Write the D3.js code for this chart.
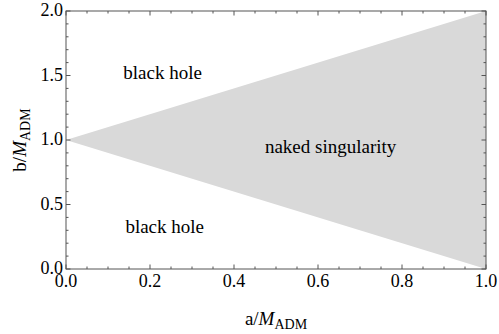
<!DOCTYPE html>
<html>
  <head>
    <meta charset="utf-8">
    <title></title>
    <style>
      body, html{
        margin: 0;
        width: 100%;
        height: 100%;
        background: #fff;
      }
    </style>
  </head>
  <body>
    <svg id="chart" width="499" height="334"></svg>
    <script src="https://cdn.jsdelivr.net/npm/d3@7"></script>
    <script>

// region boundary: triangle of naked singularity in (a, b)
var regionA = [0, 1, 1]
var regionB = [1, 2, 0]

var labels = ['black hole', 'naked singularity', 'black hole']
var labelA = [0.23, 0.63, 0.235]
var labelB = [1.52, 0.95, 0.33]

var xMajor = [0, 0.2, 0.4, 0.6, 0.8, 1.0]
var yMajor = [0, 0.5, 1.0, 1.5, 2.0]

var width = 499, height = 334
var margin = {left: 66, right: 13, top: 11, bottom: 65}
var serif = '"Liberation Serif"'

var svg = d3.select('#chart')
var x = d3.scaleLinear().domain([0, 1]).range([margin.left, width - margin.right])
var y = d3.scaleLinear().domain([0, 2]).range([height - margin.bottom, margin.top])

var pts = regionA.map(function(a, i){ return [x(a), y(regionB[i])] })
svg.append('path')
  .attr('d', d3.line()(pts) + 'Z')
  .attr('fill', '#d9d9d9')
  .attr('stroke', 'none')

svg.selectAll('text.region').data(labels).enter().append('text')
  .attr('class', 'region')
  .attr('x', function(d, i){ return x(labelA[i]) })
  .attr('y', function(d, i){ return y(labelB[i]) })
  .attr('dy', '0.33em')
  .attr('text-anchor', 'middle')
  .attr('font-size', 19)
  .style('font-family', serif)
  .text(function(d){ return d })

// frame with ticks on every side, pointing inward
var xMinor = d3.range(0, 1.0001, 0.05)
var yMinor = d3.range(0, 2.0001, 0.1)
var frame = svg.append('g').attr('stroke', '#555').attr('stroke-width', 1)
function isMajor(v, list){ return list.some(function(m){ return Math.abs(m - v) < 1e-6 }) }

var x0 = x(0), x1 = x(1), y0 = y(0), y1 = y(2)
xMinor.forEach(function(v){
  var len = isMajor(v, xMajor) ? 4.5 : 2.5
  frame.append('line').attr('x1', x(v)).attr('x2', x(v)).attr('y1', y0).attr('y2', y0 - len)
  frame.append('line').attr('x1', x(v)).attr('x2', x(v)).attr('y1', y1).attr('y2', y1 + len)
})
yMinor.forEach(function(v){
  var len = isMajor(v, yMajor) ? 4.5 : 2.5
  frame.append('line').attr('y1', y(v)).attr('y2', y(v)).attr('x1', x0).attr('x2', x0 + len)
  frame.append('line').attr('y1', y(v)).attr('y2', y(v)).attr('x1', x1).attr('x2', x1 - len)
})
frame.append('rect')
  .attr('x', x0).attr('y', y1)
  .attr('width', x1 - x0).attr('height', y0 - y1)
  .attr('fill', 'none')

svg.selectAll('text.xt').data(xMajor).enter().append('text')
  .attr('class', 'xt')
  .attr('x', function(d){ return x(d) })
  .attr('y', y0 + 18)
  .attr('text-anchor', 'middle')
  .attr('font-size', 18)
  .style('font-family', serif)
  .text(d3.format('.1f'))

svg.selectAll('text.yt').data(yMajor).enter().append('text')
  .attr('class', 'yt')
  .attr('x', x0 - 3)
  .attr('y', function(d){ return y(d) })
  .attr('dy', '0.28em')
  .attr('text-anchor', 'end')
  .attr('font-size', 18)
  .style('font-family', serif)
  .text(d3.format('.1f'))

function axisLabel(sel, letter){
  sel.append('tspan').text(letter + '/')
  sel.append('tspan').style('font-style', 'italic').text('M')
  sel.append('tspan').attr('dy', 4).attr('font-size', 14).text('ADM')
}

svg.append('text')
  .attr('x', (x0 + x1) / 2)
  .attr('y', 325)
  .attr('text-anchor', 'middle')
  .attr('font-size', 19)
  .style('font-family', serif)
  .call(axisLabel, 'a')

svg.append('text')
  .attr('transform', 'translate(26,' + ((y0 + y1) / 2) + ') rotate(-90)')
  .attr('text-anchor', 'middle')
  .attr('font-size', 19)
  .style('font-family', serif)
  .call(axisLabel, 'b')
    </script>
  </body>
</html>
